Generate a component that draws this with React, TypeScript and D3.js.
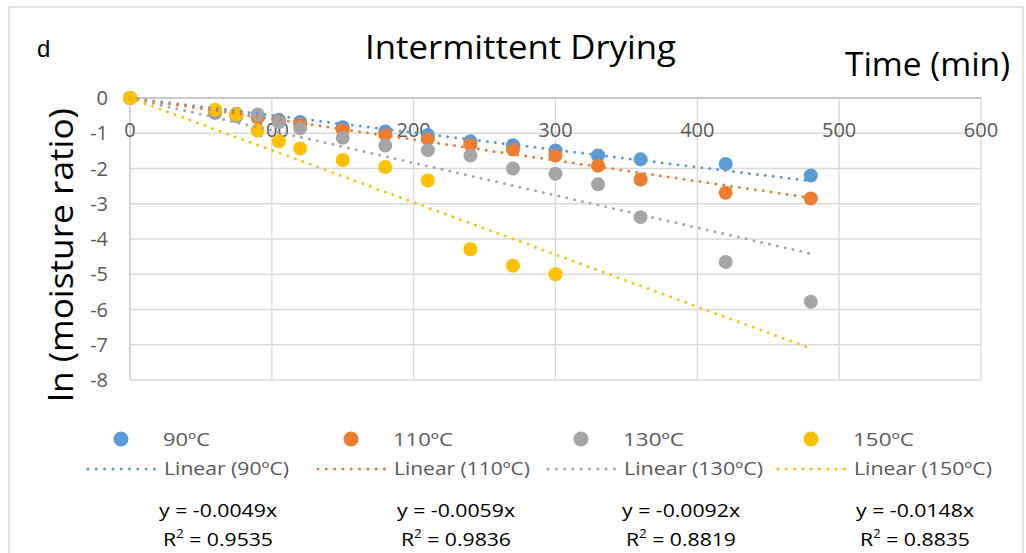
import React from "react";
import * as d3 from "d3";

const times = [0, 60, 75, 90, 105, 120, 150, 180, 210, 240, 270, 300, 330, 360, 420, 480];
const times150 = [0, 60, 75, 90, 105, 120, 150, 180, 210, 240, 270, 300];
const s90 = [0, -0.42, -0.48, -0.55, -0.62, -0.68, -0.83, -0.95, -1.05, -1.23, -1.34, -1.49, -1.63, -1.74, -1.87, -2.2];
const s110 = [0, -0.38, -0.45, -0.55, -0.65, -0.75, -0.9, -1.04, -1.16, -1.32, -1.46, -1.63, -1.92, -2.31, -2.69, -2.85];
const s130 = [0, -0.36, -0.52, -0.47, -0.68, -0.86, -1.13, -1.35, -1.48, -1.63, -2.0, -2.15, -2.45, -3.38, -4.65, -5.78];
const s150 = [0, -0.33, -0.47, -0.92, -1.23, -1.43, -1.76, -1.96, -2.34, -4.29, -4.76, -5.0];
const slopes = [-0.0049, -0.0059, -0.0092, -0.0148];
const r2 = ["0.9535", "0.9836", "0.8819", "0.8835"];
const names = ["90ºC", "110ºC", "130ºC", "150ºC"];
const colors = ["#5B9BD5", "#ED7D31", "#A5A5A5", "#FFC000"];
const xTicks = [0, 100, 200, 300, 400, 500, 600];
const yTicks = [0, -1, -2, -3, -4, -5, -6, -7, -8];
const trendEnd = 480;

const series = [
  { t: times, v: s90 },
  { t: times, v: s110 },
  { t: times, v: s130 },
  { t: times150, v: s150 },
];

const FONT = "'Open Sans', 'DejaVu Sans', sans-serif";

export default function App() {
  const x = d3.scaleLinear().domain([0, 600]).range([130, 981]);
  const y = d3.scaleLinear().domain([0, -8]).range([98, 380]);
  const legendCols = [86, 316, 546, 776];
  const legTextW1 = [47, 60, 61, 61];
  const legTextW2 = [125, 136, 139, 138];
  const eqCenters = [218, 456, 681, 915];

  return (
    <svg
      width={1026}
      height={553}
      style={{ position: "absolute", left: 0, top: 0, background: "#fff" }}
      fontFamily={FONT}
    >
      <rect x={0} y={0} width={1026} height={553} fill="#fff" />
      <rect x={9} y={7} width={1014} height={560} fill="none" stroke="#D9D9D9" strokeWidth={1.5} />

      {/* gridlines */}
      {yTicks.map((v) => (
        <line key={"gy" + v} x1={x(0)} x2={x(600)} y1={y(v)} y2={y(v)} stroke="#D9D9D9" strokeWidth={1.3} />
      ))}
      {xTicks.map((v) => (
        <line key={"gx" + v} x1={x(v)} x2={x(v)} y1={y(0)} y2={y(-8)} stroke="#D9D9D9" strokeWidth={1.3} />
      ))}
      <line x1={x(0)} x2={x(600)} y1={y(0)} y2={y(0)} stroke="#BFBFBF" strokeWidth={1.5} />
      <line x1={x(0)} x2={x(0)} y1={y(0)} y2={y(-8)} stroke="#D0D0D0" strokeWidth={1.5} />

      {/* tick labels */}
      {xTicks.map((v) => (
        <text key={"tx" + v} x={x(v)} y={137} textAnchor="middle" fontSize={20} fill="#595959">
          {v}
        </text>
      ))}
      {yTicks.map((v) => (
        <text key={"ty" + v} x={108} y={y(v) + 7} textAnchor="end" fontSize={20} fill="#595959">
          {v === 0 ? "0" : "-" + Math.abs(v)}
        </text>
      ))}

      {/* markers */}
      {series.map((s, si) =>
        s.t.map((t, i) => (
          <circle key={"m" + si + "-" + i} cx={x(t)} cy={y(s.v[i])} r={7} fill={colors[si]} />
        ))
      )}

      {/* trendlines */}
      {slopes.map((m, si) => (
        <line
          key={"tr" + si}
          x1={x(0)}
          y1={y(0)}
          x2={x(trendEnd)}
          y2={y(m * trendEnd)}
          stroke={colors[si]}
          strokeWidth={3}
          strokeDasharray="0 8"
          strokeLinecap="round"
        />
      ))}

      {/* titles */}
      <text x={37} y={57} fontSize={24} fontFamily="'Liberation Sans', Arial, sans-serif" fill="#000">
        d
      </text>
      <text x={365} y={59} fontSize={32} textLength={311} lengthAdjust="spacingAndGlyphs" fill="#000">
        Intermittent Drying
      </text>
      <text x={845} y={76} fontSize={32} textLength={165} lengthAdjust="spacingAndGlyphs" fill="#000">
        Time (min)
      </text>
      <text
        transform="translate(73,255) rotate(-90)"
        textAnchor="middle"
        fontSize={32}
        textLength={294}
        lengthAdjust="spacingAndGlyphs"
        fill="#000"
      >
        ln (moisture ratio)
      </text>

      {/* legend */}
      {names.map((n, i) => (
        <g key={"lg" + i}>
          <circle cx={legendCols[i] + 35} cy={439} r={7.5} fill={colors[i]} />
          <text x={legendCols[i] + 77} y={446} fontSize={19} textLength={legTextW1[i]} lengthAdjust="spacingAndGlyphs" fill="#595959">
            {n}
          </text>
          <line
            x1={legendCols[i] + 2}
            x2={legendCols[i] + 69}
            y1={469}
            y2={469}
            stroke={colors[i]}
            strokeWidth={3}
            strokeDasharray="0 8.3"
            strokeLinecap="round"
          />
          <text x={legendCols[i] + 78} y={475} fontSize={19} textLength={legTextW2[i]} lengthAdjust="spacingAndGlyphs" fill="#595959">
            {"Linear (" + n + ")"}
          </text>
        </g>
      ))}

      {/* equations */}
      {slopes.map((m, i) => (
        <g key={"eq" + i}>
          <text x={eqCenters[i]} y={517} textAnchor="middle" fontSize={19} textLength={118} lengthAdjust="spacingAndGlyphs" fill="#000">
            {"y = " + m.toFixed(4) + "x"}
          </text>
          <text x={eqCenters[i]} y={546} textAnchor="middle" fontSize={19} textLength={110} lengthAdjust="spacingAndGlyphs" fill="#000">
            R<tspan fontSize={12} dy={-8}>2</tspan>
            <tspan dy={8}>{" = " + r2[i]}</tspan>
          </text>
        </g>
      ))}
    </svg>
  );
}
